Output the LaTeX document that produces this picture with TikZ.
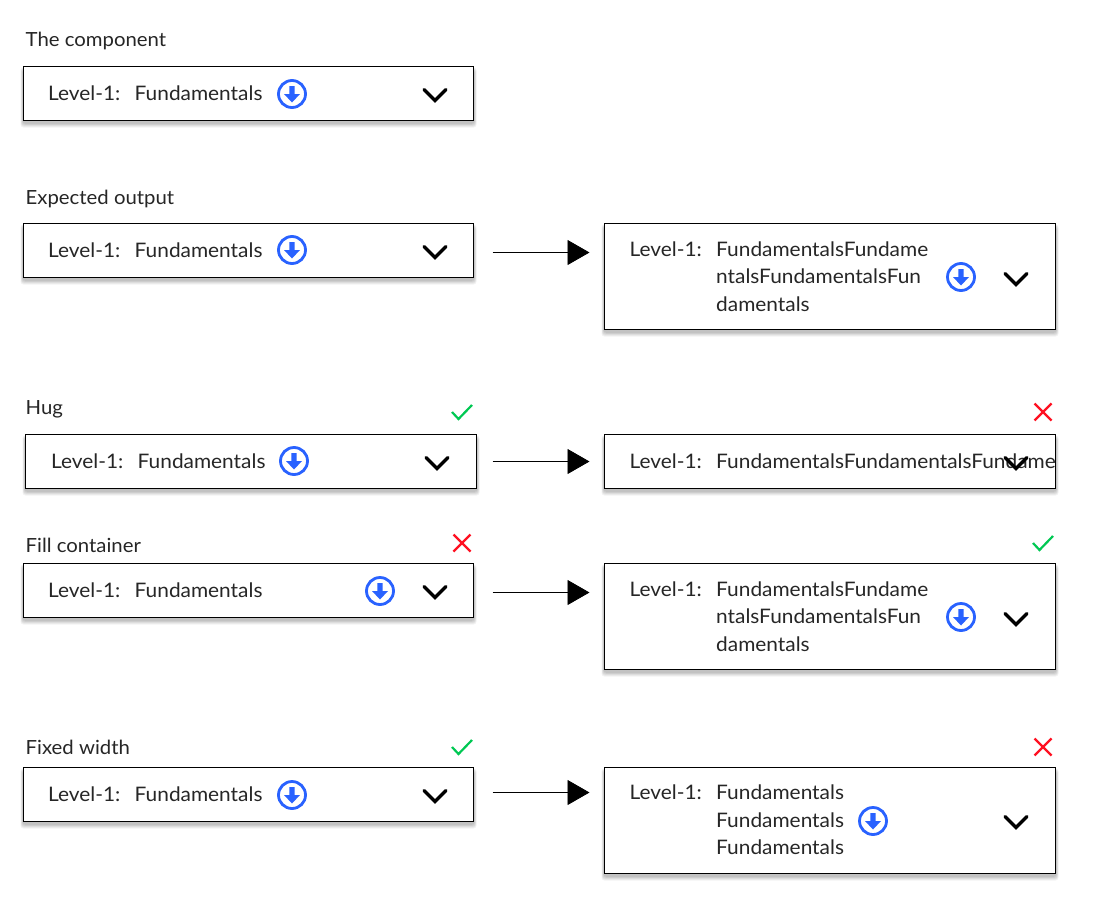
\documentclass[tikz,border=0pt]{standalone}
\usepackage{fontspec}
\setmainfont[FakeStretch=1.043]{Lato}
\usepackage{xcolor}
\usetikzlibrary{arrows.meta}
\definecolor{iconblue}{HTML}{2962FF}
\definecolor{okgreen}{HTML}{00C853}
\definecolor{badred}{HTML}{FF1122}
\tikzset{
  panel/.style={draw=black, line width=1pt, fill=white, anchor=north west, inner sep=0pt, outer sep=0pt},
  txt/.style={anchor=base west, inner sep=0pt, font=\fontsize{20}{24}\selectfont, text=black!85},
  headline/.style={txt, font=\fontsize{19.5}{24}\selectfont},
  flow/.style={-{Triangle[length=22pt,width=25pt]}, line width=0.9pt, shorten >=15pt},
  dlicon/.pic={
    \draw[iconblue, line width=2.8pt] (0,0) circle (13.5);
    \fill[iconblue] (-2.6,-8)--(2.6,-8)--(2.6,0)--(8,0)--(0,8.5)--(-8,0)--(-2.6,0)--cycle;
  },
  chevron/.pic={
    \draw[black, line width=3.4pt, line cap=round, line join=miter] (-11,-5.5)--(0,5.5)--(11,-5.5);
  },
  tickmark/.pic={
    \draw[okgreen, line width=2.2pt] (-10,0)--(-3.5,7)--(10,-7);
  },
  crossmark/.pic={
    \draw[badred, line width=2.2pt] (-8.5,-8.5)--(8.5,8.5) (-8.5,8.5)--(8.5,-8.5);
  }
}
\begin{document}
\begin{tikzpicture}[x=1pt,y=-1pt]
  \useasboundingbox (0,0) rectangle (1096,908);
  \fill[white] (0,0) rectangle (1096,908);
  % Boxes with a soft shadow underneath
  \foreach \boxname/\bx/\by/\bw/\bh in {
    comp/23.5/66.5/450/54, expL/23.5/223.5/450/54, expR/604.5/223.5/451/106,
    hugL/25.5/434.5/451/54, hugR/604.5/434.5/451/54,
    fillL/23.5/563.5/450/54, fillR/604.5/563.5/451/106,
    fixL/23.5/767.5/450/54, fixR/604.5/767.5/451/106} {
    \foreach \s in {0,1,2,3,4} {
      \fill[black, fill opacity=0.05, rounded corners=3pt]
        (\bx-3+\s*0.5,\by+1+\s*0.5) rectangle (\bx+\bw+3-\s*0.5,\by+\bh+7-\s*0.9);
    }
    \node[panel, minimum width=\bw pt, minimum height=\bh pt] (\boxname) at (\bx,\by) {};
  }
  % Section titles
  \node[headline] (title1) at (25.5,46) {The component};
  \node[headline] (title2) at (25.5,204) {Expected output};
  \node[headline] (title3) at (25.5,414) {Hug};
  \node[headline] (title4) at (25.5,552) {Fill container};
  \node[headline] (title5) at (25.5,754) {Fixed width};
  % Single line labels on the left
  \foreach \rowname/\tx/\ty in {comp/48/100, expL/48/257, hugL/51/468, fillL/48/597.5, fixL/48/801} {
    \node[txt] (\rowname lvl) at (\tx,\ty) {Level-1:};
    \node[txt] (\rowname fun) at (\tx+86.5,\ty) {Fundamentals};
  }
  % Right column labels
  \foreach \rowname/\ty in {expR/256, hugR/468, fillR/596, fixR/799.5} {
    \node[txt] (\rowname lvl) at (629.5,\ty) {Level-1:};
  }
  \node[txt] (expR a) at (716,256) {FundamentalsFundame};
  \node[txt] (expR b) at (716,283.5) {ntalsFundamentalsFun};
  \node[txt] (expR c) at (716,311) {damentals};
  \node[txt] (hugR a) at (716,468) {FundamentalsFundamentalsFundame};
  \node[txt] (fillR a) at (716,596) {FundamentalsFundame};
  \node[txt] (fillR b) at (716,623.5) {ntalsFundamentalsFun};
  \node[txt] (fillR c) at (716,651) {damentals};
  \node[txt] (fixR a) at (716,799.5) {Fundamentals};
  \node[txt] (fixR b) at (716,827) {Fundamentals};
  \node[txt] (fixR c) at (716,854.5) {Fundamentals};
  % Download icons
  \foreach \ix/\iy in {292/94, 292/250, 961/277, 294/461, 380/591, 961/617, 292/795, 873/821} {
    \pic at (\ix,\iy) {dlicon};
  }
  % Chevrons
  \foreach \ix/\iy in {435/95, 435/252, 1016/279, 437/463, 1016/463, 435/592, 1016/619, 435/796, 1016/822} {
    \pic at (\ix,\iy) {chevron};
  }
  % Verdict marks
  \pic at (462,412) {tickmark};
  \pic at (1043,412) {crossmark};
  \pic at (462,543) {crossmark};
  \pic at (1043,543) {tickmark};
  \pic at (462,747) {tickmark};
  \pic at (1043,747) {crossmark};
  % Arrows between the two columns
  \foreach \from/\to/\ay/\gap in {expL/expR/252.5/19, hugL/hugR/461.5/16, fillL/fillR/592.5/19, fixL/fixR/792.5/19} {
    \coordinate (lane) at (0,\ay);
    \draw[flow, shorten <=\gap pt] (\from.east |- lane) -- (\to.west |- lane);
  }
\end{tikzpicture}
\end{document}
